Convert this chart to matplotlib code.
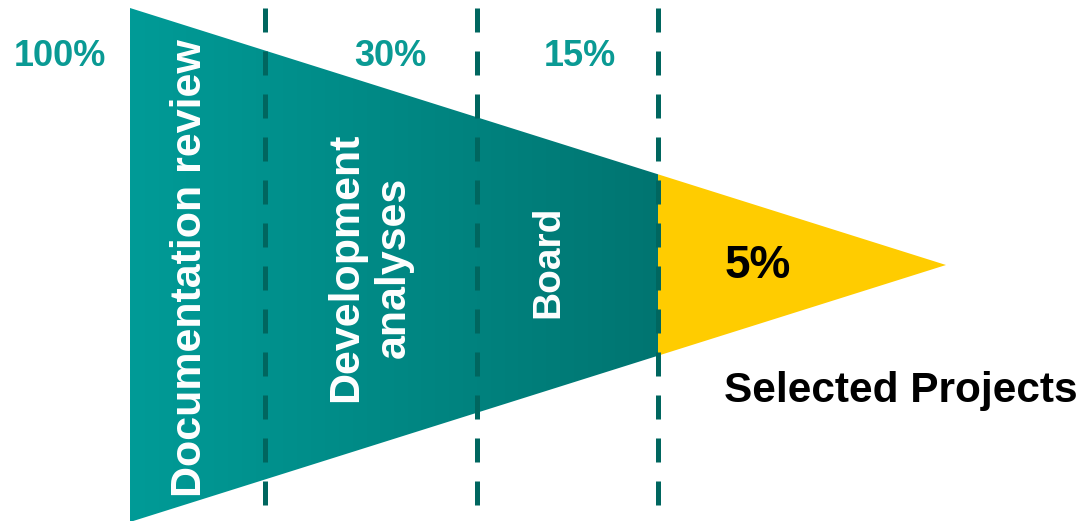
import numpy as np
import matplotlib
matplotlib.use('Agg')
import matplotlib.pyplot as plt
from matplotlib.patches import Polygon
from matplotlib.colors import LinearSegmentedColormap

# funnel content
stage_labels = ['Documentation review', 'Development\nanalyses', 'Board']
stage_pcts = ['100%', '30%', '15%']
final_pct = '5%'
final_label = 'Selected Projects'

# layout (pixel-like coordinates, y down)
W, H = 1082, 521
left_x, apex_x, apex_y = 130, 946, 265
top_y, bot_y = 8, 522
bounds = [265, 477, 658]          # dashed stage boundaries
label_x = [190, 370, 548]
label_y = [268, 267, 262]
pct_x = [60, 390, 580]

teal_light = '#009b97'
teal_dark = '#007571'
dash_col = '#00665f'
yellow = '#ffcc00'
pct_col = '#0a9a94'

plt.rcParams['font.family'] = ['Liberation Sans', 'DejaVu Sans']
fig = plt.figure(figsize=(W / 100, H / 100), dpi=100)
fig.patch.set_facecolor('white')
ax = fig.add_axes([0, 0, 1, 1])
ax.set_xlim(0, W)
ax.set_ylim(H, 0)
ax.axis('off')

def edge_y(x, top=True):
  # y of the funnel edge at horizontal position x
  t = (x - left_x) / (apex_x - left_x)
  y0 = top_y if top else bot_y
  return y0 + t * (apex_y - y0)

cut = bounds[-1]
teal_poly = Polygon([(left_x, top_y), (cut, edge_y(cut)), (cut, edge_y(cut, False)),
                     (left_x, bot_y)], closed=True, facecolor='none', edgecolor='none')
ax.add_patch(teal_poly)
cmap = LinearSegmentedColormap.from_list('teal', [teal_light, teal_dark])
grad = np.linspace(0, 1, 256).reshape(1, -1)
im = ax.imshow(grad, cmap=cmap, extent=[left_x, cut, bot_y, top_y], aspect='auto', zorder=1)
im.set_clip_path(teal_poly)

ax.add_patch(Polygon([(cut, edge_y(cut)), (apex_x, apex_y), (cut, edge_y(cut, False))],
                     closed=True, facecolor=yellow, edgecolor='none', zorder=1))

for bx in bounds:
  ax.plot([bx, bx], [top_y, H], color=dash_col, lw=3.6,
          linestyle=(0, (4.8, 3.8)), zorder=2, solid_capstyle='butt')

for lbl, x, y in zip(stage_labels, label_x, label_y):
  fs = 28 if lbl == 'Board' else 31
  ax.text(x, y, lbl, rotation=90, color='white', fontsize=fs, fontweight='bold',
          ha='center', va='center', multialignment='center', linespacing=1.25, zorder=3)

for p, x in zip(stage_pcts, pct_x):
  ax.text(x, 57, p, color=pct_col, fontsize=26, fontweight='bold',
          ha='center', va='center', zorder=3)

ax.text(758, 266, final_pct, color='black', fontsize=33, fontweight='bold',
        ha='center', va='center', zorder=3)
ax.text(901, 391, final_label, color='black', fontsize=30.5, fontweight='bold',
        ha='center', va='center', zorder=3)

fig.savefig('out.png', dpi=100, facecolor='white')
